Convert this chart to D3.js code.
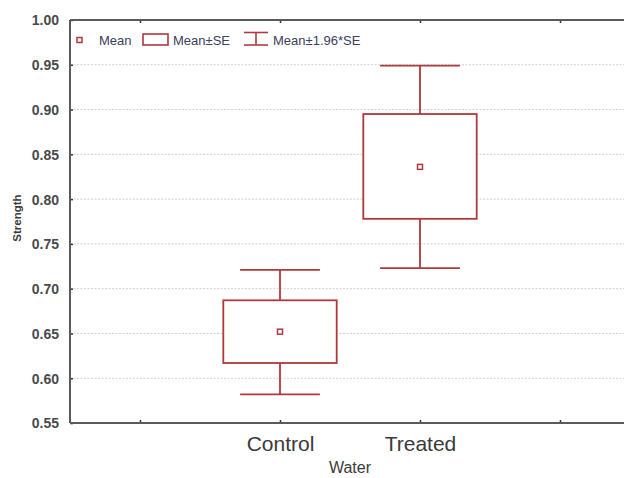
<!DOCTYPE html>
<html><head><meta charset="utf-8">
<script src="https://cdn.jsdelivr.net/npm/d3@7"></script>
<style>
html,body{margin:0;padding:0;background:#fff;}
svg text{font-family:"Liberation Sans",Arial,sans-serif;}
</style></head>
<body><svg id="c" width="624" height="478"></svg>
<script>
// Data
const slots = ["s0", "Control", "Treated", "s3"];
const categories = ["Control", "Treated"];
const means = [0.652, 0.836];
const seLow = [0.617, 0.778];
const seHigh = [0.687, 0.895];
const ciLow = [0.582, 0.723];
const ciHigh = [0.721, 0.949];
const yTicks = [0.55, 0.60, 0.65, 0.70, 0.75, 0.80, 0.85, 0.90, 0.95, 1.00];
const legendLabels = ["Mean", "Mean±SE", "Mean±1.96*SE"];

const svg = d3.select("#c");
const L = 70, T = 20, R = 630, B = 423;
const red = "#b0393e";
const axisCol = "#5a5a5a";

const x = d3.scalePoint().domain(slots).range([L, R]).padding(0.5);
const y = d3.scaleLinear().domain([0.55, 1.0]).range([B, T]);
const step = x.step();

// gridlines
svg.append("g").selectAll("line").data(yTicks.filter(v => v > 0.56 && v < 0.99)).join("line")
  .attr("x1", L).attr("x2", R).attr("y1", d => y(d)).attr("y2", d => y(d))
  .attr("stroke", "#cfcfcf").attr("stroke-width", 1).attr("stroke-dasharray", "2,1.5");

// left axis
const yAxis = d3.axisLeft(y).tickValues(yTicks).tickFormat(d3.format(".2f")).tickSize(-3).tickPadding(11);
const gy = svg.append("g").attr("transform", `translate(${L},0)`).call(yAxis);
gy.select(".domain").remove();
gy.selectAll(".tick line").attr("stroke", "#333").attr("stroke-width", 1.5);
gy.selectAll(".tick text").attr("fill", "#4a4a4a").attr("font-size", 14).attr("font-weight", "bold")
  .attr("font-family", "'Liberation Sans',Arial,sans-serif").attr("dy", "0.35em");

// bottom axis
const xAxis = d3.axisBottom(x).tickSize(-3).tickPadding(13)
  .tickFormat(d => categories.includes(d) ? d : "");
const gx = svg.append("g").attr("transform", `translate(0,${B})`).call(xAxis);
gx.select(".domain").remove();
gx.selectAll(".tick line").attr("stroke", "#333").attr("stroke-width", 1.5);
gx.selectAll(".tick text").attr("fill", "#3a3a3a").attr("font-size", 21)
  .attr("font-family", "'Liberation Sans',Arial,sans-serif");

// top axis ticks
const gt = svg.append("g").attr("transform", `translate(0,${T})`).call(d3.axisTop(x).tickSize(-3).tickFormat(""));
gt.select(".domain").remove();
gt.selectAll(".tick line").attr("stroke", "#333").attr("stroke-width", 1.5);

// frame
svg.append("line").attr("x1", L).attr("x2", R).attr("y1", T).attr("y2", T).attr("stroke", axisCol).attr("stroke-width", 2);
svg.append("line").attr("x1", L).attr("x2", R).attr("y1", B).attr("y2", B).attr("stroke", axisCol).attr("stroke-width", 2);
svg.append("line").attr("x1", L).attr("x2", L).attr("y1", T).attr("y2", B).attr("stroke", axisCol).attr("stroke-width", 2);

// boxes and whiskers
const boxW = step * 0.81, capW = step * 0.57;
const g = svg.append("g");
categories.forEach((c, i) => {
  const cx = x(c);
  g.append("line").attr("x1", cx).attr("x2", cx).attr("y1", y(ciHigh[i])).attr("y2", y(seHigh[i])).attr("stroke", red).attr("stroke-width", 1.8);
  g.append("line").attr("x1", cx).attr("x2", cx).attr("y1", y(seLow[i])).attr("y2", y(ciLow[i])).attr("stroke", red).attr("stroke-width", 1.8);
  g.append("line").attr("x1", cx - capW / 2).attr("x2", cx + capW / 2).attr("y1", y(ciHigh[i])).attr("y2", y(ciHigh[i])).attr("stroke", red).attr("stroke-width", 1.8);
  g.append("line").attr("x1", cx - capW / 2).attr("x2", cx + capW / 2).attr("y1", y(ciLow[i])).attr("y2", y(ciLow[i])).attr("stroke", red).attr("stroke-width", 1.8);
  g.append("rect").attr("x", cx - boxW / 2).attr("width", boxW)
    .attr("y", y(seHigh[i])).attr("height", y(seLow[i]) - y(seHigh[i]))
    .attr("fill", "#fff").attr("stroke", red).attr("stroke-width", 1.8);
  g.append("rect").attr("x", cx - 2.5).attr("y", y(means[i]) - 2.5).attr("width", 5).attr("height", 5)
    .attr("fill", "#fff").attr("stroke", red).attr("stroke-width", 1.5);
});

// legend
const lg = svg.append("g");
const ly = 40;
lg.append("rect").attr("x", 77).attr("y", ly - 2.5).attr("width", 5).attr("height", 5).attr("fill", "#fff").attr("stroke", red).attr("stroke-width", 1.5);
lg.append("text").attr("x", 99).attr("y", ly + 4.5).text(legendLabels[0]);
lg.append("rect").attr("x", 143).attr("y", ly - 6).attr("width", 25).attr("height", 11).attr("fill", "#fff").attr("stroke", red).attr("stroke-width", 1.6);
lg.append("text").attr("x", 173).attr("y", ly + 4.5).text(legendLabels[1]);
lg.append("line").attr("x1", 244).attr("x2", 268).attr("y1", ly - 7.5).attr("y2", ly - 7.5).attr("stroke", red).attr("stroke-width", 1.6);
lg.append("line").attr("x1", 244).attr("x2", 268).attr("y1", ly + 5).attr("y2", ly + 5).attr("stroke", red).attr("stroke-width", 1.6);
lg.append("line").attr("x1", 256).attr("x2", 256).attr("y1", ly - 7.5).attr("y2", ly + 5).attr("stroke", red).attr("stroke-width", 1.6);
lg.append("text").attr("x", 273).attr("y", ly + 4.5).text(legendLabels[2]);
lg.selectAll("text").attr("font-size", 13).attr("fill", "#3c4060");

// axis titles
svg.append("text").attr("x", (L + R) / 2).attr("y", 473).attr("text-anchor", "middle")
  .attr("font-size", 16).attr("fill", "#3a3a3a").text("Water");
svg.append("text").attr("transform", `translate(21,218) rotate(-90)`).attr("text-anchor", "middle")
  .attr("font-size", 11.5).attr("font-weight", "bold").attr("fill", "#3a3a3a").text("Strength");
</script></body></html>
